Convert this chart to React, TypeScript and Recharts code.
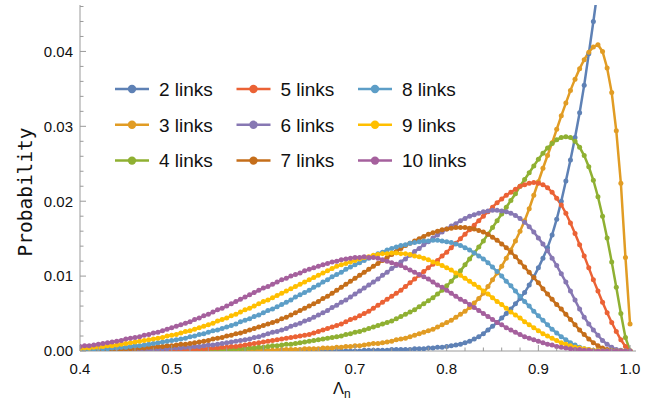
import React from "react";
import { Legend, Line, LineChart, XAxis, YAxis } from "recharts";

// Λ_n grid (step 0.005)
const LAMBDA = [
  0.4, 0.405, 0.41, 0.415, 0.42, 0.425, 0.43, 0.435, 0.44, 0.445,
  0.45, 0.455, 0.46, 0.465, 0.47, 0.475, 0.48, 0.485, 0.49, 0.495,
  0.5, 0.505, 0.51, 0.515, 0.52, 0.525, 0.53, 0.535, 0.54, 0.545,
  0.55, 0.555, 0.56, 0.565, 0.57, 0.575, 0.58, 0.585, 0.59, 0.595,
  0.6, 0.605, 0.61, 0.615, 0.62, 0.625, 0.63, 0.635, 0.64, 0.645,
  0.65, 0.655, 0.66, 0.665, 0.67, 0.675, 0.68, 0.685, 0.69, 0.695,
  0.7, 0.705, 0.71, 0.715, 0.72, 0.725, 0.73, 0.735, 0.74, 0.745,
  0.75, 0.755, 0.76, 0.765, 0.77, 0.775, 0.78, 0.785, 0.79, 0.795,
  0.8, 0.805, 0.81, 0.815, 0.82, 0.825, 0.83, 0.835, 0.84, 0.845,
  0.85, 0.855, 0.86, 0.865, 0.87, 0.875, 0.88, 0.885, 0.89, 0.895,
  0.9, 0.905, 0.91, 0.915, 0.92, 0.925, 0.93, 0.935, 0.94, 0.945,
  0.95, 0.955, 0.96, 0.965, 0.97, 0.975, 0.98, 0.985, 0.99, 0.995,
  1.0,
];

const LINKS_2 = [
  0, 0, 0, 0, 0, 0, 0, 0, 0, 0,
  0, 0, 0, 0, 0, 0, 0, 0, 0, 0,
  0, 0, 0, 0, 0, 0, 0, 0, 0, 0,
  0, 0, 0, 0, 0, 0, 0, 0, 0, 0,
  0, 0, 0, 0, 0, 0, 0, 0, 0, 0,
  0, 0, 0, 0, 0, 0, 0, 0, 0, 0,
  0, 0, 0.0001, 0.0001, 0.0001, 0.0001, 0.0001, 0.0001, 0.0002, 0.0002,
  0.0002, 0.0002, 0.0002, 0.0003, 0.0003, 0.0003, 0.0004, 0.0004, 0.0005, 0.0005,
  0.0006, 0.0007, 0.0008, 0.0009, 0.0011, 0.0013, 0.0016, 0.0019, 0.0023, 0.0028,
  0.0033, 0.0038, 0.0044, 0.005, 0.0056, 0.0063, 0.007, 0.0078, 0.0088, 0.0099,
  0.0111, 0.0124, 0.0138, 0.0155, 0.0176, 0.02, 0.0227, 0.0255, 0.0285, 0.0318,
  0.0355, 0.0397, 0.044, 0.0485, null, null, null, null, null, null,
  null,
];

const LINKS_3 = [
  0, 0, 0, 0, 0, 0, 0, 0, 0, 0,
  0, 0, 0, 0, 0, 0, 0, 0, 0, 0,
  0, 0, 0, 0, 0, 0, 0, 0, 0, 0,
  0, 0, 0, 0, 0, 0, 0, 0, 0.0001, 0.0001,
  0.0001, 0.0001, 0.0001, 0.0001, 0.0002, 0.0002, 0.0002, 0.0002, 0.0002, 0.0003,
  0.0003, 0.0003, 0.0003, 0.0004, 0.0004, 0.0004, 0.0005, 0.0005, 0.0006, 0.0006,
  0.0007, 0.0007, 0.0008, 0.0009, 0.001, 0.001, 0.0011, 0.0012, 0.0013, 0.0015,
  0.0016, 0.0017, 0.0019, 0.0021, 0.0023, 0.0025, 0.0027, 0.0029, 0.0032, 0.0035,
  0.0038, 0.0041, 0.0045, 0.0049, 0.0053, 0.0058, 0.0064, 0.007, 0.0077, 0.0086,
  0.0095, 0.0104, 0.0113, 0.0124, 0.0135, 0.0147, 0.016, 0.0174, 0.019, 0.0208,
  0.0226, 0.0244, 0.0261, 0.0278, 0.0296, 0.0314, 0.0331, 0.0348, 0.0363, 0.0377,
  0.0389, 0.0399, 0.0406, 0.0409, 0.04, 0.0378, 0.0345, 0.0294, 0.0224, 0.0125,
  0.0036,
];

const LINKS_4 = [
  0, 0, 0, 0, 0, 0, 0, 0, 0, 0,
  0, 0, 0, 0, 0, 0, 0, 0, 0, 0,
  0, 0, 0, 0, 0, 0.0001, 0.0001, 0.0001, 0.0001, 0.0001,
  0.0001, 0.0002, 0.0002, 0.0002, 0.0003, 0.0003, 0.0003, 0.0004, 0.0004, 0.0005,
  0.0005, 0.0006, 0.0007, 0.0007, 0.0008, 0.0009, 0.0009, 0.001, 0.0011, 0.0012,
  0.0013, 0.0014, 0.0015, 0.0016, 0.0017, 0.0018, 0.0019, 0.002, 0.0022, 0.0023,
  0.0025, 0.0026, 0.0028, 0.003, 0.0032, 0.0034, 0.0036, 0.0038, 0.004, 0.0043,
  0.0046, 0.0049, 0.0052, 0.0055, 0.0059, 0.0063, 0.0067, 0.0071, 0.0076, 0.0081,
  0.0087, 0.0093, 0.01, 0.0107, 0.0115, 0.0123, 0.0131, 0.0139, 0.0147, 0.0156,
  0.0165, 0.0174, 0.0183, 0.0192, 0.0201, 0.021, 0.022, 0.0229, 0.0238, 0.0247,
  0.0256, 0.0264, 0.0271, 0.0277, 0.0282, 0.0285, 0.0286, 0.0285, 0.028, 0.0272,
  0.0261, 0.0246, 0.0228, 0.0206, 0.018, 0.0151, 0.0119, 0.0085, 0.005, 0.0018,
  0,
];

const LINKS_5 = [
  0, 0, 0, 0, 0, 0, 0, 0, 0, 0,
  0, 0.0001, 0.0001, 0.0001, 0.0001, 0.0001, 0.0001, 0.0001, 0.0001, 0.0001,
  0.0001, 0.0001, 0.0002, 0.0002, 0.0002, 0.0002, 0.0003, 0.0003, 0.0003, 0.0004,
  0.0004, 0.0005, 0.0005, 0.0006, 0.0006, 0.0007, 0.0008, 0.0009, 0.001, 0.0011,
  0.0012, 0.0013, 0.0014, 0.0015, 0.0016, 0.0017, 0.0018, 0.0019, 0.002, 0.0021,
  0.0022, 0.0024, 0.0026, 0.0028, 0.003, 0.0032, 0.0034, 0.0036, 0.0039, 0.0042,
  0.0044, 0.0047, 0.005, 0.0053, 0.0057, 0.0061, 0.0065, 0.0069, 0.0073, 0.0077,
  0.0081, 0.0086, 0.0091, 0.0096, 0.0101, 0.0106, 0.0111, 0.0116, 0.0121, 0.0127,
  0.0132, 0.0138, 0.0144, 0.015, 0.0156, 0.0162, 0.0168, 0.0174, 0.018, 0.0186,
  0.0192, 0.0198, 0.0203, 0.0208, 0.0212, 0.0216, 0.022, 0.0222, 0.0224, 0.0225,
  0.0224, 0.0222, 0.0218, 0.0212, 0.0204, 0.0195, 0.0184, 0.0171, 0.0157, 0.0142,
  0.0127, 0.0111, 0.0095, 0.008, 0.0065, 0.0051, 0.0038, 0.0026, 0.0015, 0.0006,
  0,
];

const LINKS_6 = [
  0, 0, 0, 0, 0.0001, 0.0001, 0.0001, 0.0001, 0.0001, 0.0001,
  0.0001, 0.0001, 0.0001, 0.0002, 0.0002, 0.0002, 0.0002, 0.0003, 0.0003, 0.0003,
  0.0004, 0.0004, 0.0004, 0.0005, 0.0005, 0.0006, 0.0006, 0.0007, 0.0008, 0.0008,
  0.0009, 0.001, 0.0011, 0.0012, 0.0013, 0.0014, 0.0015, 0.0016, 0.0018, 0.0019,
  0.0021, 0.0023, 0.0025, 0.0026, 0.0028, 0.003, 0.0033, 0.0035, 0.0037, 0.004,
  0.0042, 0.0045, 0.0048, 0.0051, 0.0054, 0.0058, 0.0061, 0.0065, 0.0068, 0.0072,
  0.0076, 0.008, 0.0084, 0.0088, 0.0092, 0.0096, 0.0101, 0.0105, 0.011, 0.0114,
  0.0119, 0.0123, 0.0128, 0.0133, 0.0137, 0.0142, 0.0146, 0.0151, 0.0155, 0.0159,
  0.0163, 0.0167, 0.017, 0.0174, 0.0177, 0.018, 0.0182, 0.0184, 0.0186, 0.0187,
  0.0188, 0.0188, 0.0187, 0.0186, 0.0184, 0.0181, 0.0177, 0.0172, 0.0166, 0.0159,
  0.0151, 0.0143, 0.0134, 0.0124, 0.0114, 0.0103, 0.0092, 0.008, 0.0068, 0.0056,
  0.0045, 0.0036, 0.0028, 0.0021, 0.0014, 0.0009, 0.0005, 0.0002, 0.0001, 0,
  0,
];

const LINKS_7 = [
  0.0001, 0.0001, 0.0001, 0.0001, 0.0001, 0.0002, 0.0002, 0.0002, 0.0002, 0.0002,
  0.0003, 0.0003, 0.0003, 0.0004, 0.0004, 0.0005, 0.0005, 0.0006, 0.0006, 0.0007,
  0.0007, 0.0008, 0.0009, 0.0009, 0.001, 0.0011, 0.0012, 0.0013, 0.0014, 0.0016,
  0.0017, 0.0018, 0.002, 0.0021, 0.0023, 0.0024, 0.0026, 0.0028, 0.003, 0.0032,
  0.0034, 0.0036, 0.0038, 0.004, 0.0043, 0.0045, 0.0048, 0.0051, 0.0054, 0.0057,
  0.006, 0.0063, 0.0066, 0.007, 0.0073, 0.0077, 0.0081, 0.0085, 0.0089, 0.0093,
  0.0097, 0.0101, 0.0105, 0.0109, 0.0113, 0.0117, 0.0121, 0.0125, 0.0129, 0.0133,
  0.0137, 0.0141, 0.0144, 0.0147, 0.015, 0.0153, 0.0156, 0.0158, 0.016, 0.0162,
  0.0163, 0.0164, 0.0165, 0.0165, 0.0165, 0.0164, 0.0163, 0.0161, 0.0159, 0.0156,
  0.0152, 0.0148, 0.0143, 0.0138, 0.0132, 0.0126, 0.0119, 0.0112, 0.0105, 0.0098,
  0.0091, 0.0083, 0.0076, 0.0069, 0.0062, 0.0056, 0.0049, 0.0042, 0.0035, 0.0028,
  0.0022, 0.0016, 0.0011, 0.0007, 0.0004, 0.0002, 0.0001, 0, 0, 0,
  0,
];

const LINKS_8 = [
  0.0001, 0.0002, 0.0002, 0.0002, 0.0003, 0.0003, 0.0003, 0.0004, 0.0004, 0.0005,
  0.0005, 0.0006, 0.0007, 0.0007, 0.0008, 0.0009, 0.001, 0.0011, 0.0012, 0.0013,
  0.0014, 0.0015, 0.0016, 0.0017, 0.0019, 0.002, 0.0022, 0.0023, 0.0025, 0.0027,
  0.0028, 0.003, 0.0032, 0.0034, 0.0036, 0.0039, 0.0041, 0.0043, 0.0046, 0.0048,
  0.0051, 0.0054, 0.0056, 0.0059, 0.0062, 0.0065, 0.0068, 0.0072, 0.0075, 0.0078,
  0.0081, 0.0085, 0.0088, 0.0092, 0.0095, 0.0099, 0.0102, 0.0105, 0.0109, 0.0112,
  0.0115, 0.0118, 0.0121, 0.0124, 0.0127, 0.013, 0.0132, 0.0135, 0.0137, 0.0139,
  0.0141, 0.0142, 0.0144, 0.0145, 0.0146, 0.0147, 0.0147, 0.0148, 0.0148, 0.0147,
  0.0146, 0.0145, 0.0143, 0.0141, 0.0138, 0.0135, 0.0131, 0.0127, 0.0123, 0.0118,
  0.0112, 0.0106, 0.01, 0.0093, 0.0087, 0.008, 0.0073, 0.0066, 0.006, 0.0053,
  0.0047, 0.0041, 0.0035, 0.0029, 0.0024, 0.0019, 0.0015, 0.0011, 0.0008, 0.0005,
  0.0003, 0.0002, 0.0001, 0.0001, 0, 0, 0, 0, 0, 0,
  0,
];

const LINKS_9 = [
  0.0003, 0.0004, 0.0004, 0.0005, 0.0005, 0.0006, 0.0007, 0.0007, 0.0008, 0.0009,
  0.001, 0.0011, 0.0012, 0.0013, 0.0014, 0.0015, 0.0016, 0.0017, 0.0018, 0.002,
  0.0021, 0.0022, 0.0024, 0.0026, 0.0027, 0.0029, 0.0031, 0.0033, 0.0035, 0.0037,
  0.004, 0.0042, 0.0044, 0.0047, 0.0049, 0.0052, 0.0055, 0.0057, 0.006, 0.0063,
  0.0066, 0.0068, 0.0071, 0.0074, 0.0077, 0.008, 0.0083, 0.0086, 0.0089, 0.0092,
  0.0095, 0.0098, 0.0101, 0.0104, 0.0107, 0.011, 0.0113, 0.0115, 0.0117, 0.0119,
  0.0121, 0.0123, 0.0125, 0.0126, 0.0128, 0.0129, 0.013, 0.013, 0.0131, 0.0131,
  0.013, 0.013, 0.0129, 0.0127, 0.0126, 0.0124, 0.0122, 0.0119, 0.0117, 0.0114,
  0.0111, 0.0108, 0.0104, 0.0101, 0.0097, 0.0093, 0.0089, 0.0085, 0.008, 0.0076,
  0.0071, 0.0066, 0.0062, 0.0057, 0.0052, 0.0048, 0.0044, 0.0039, 0.0035, 0.0031,
  0.0027, 0.0023, 0.002, 0.0017, 0.0014, 0.0011, 0.0009, 0.0007, 0.0005, 0.0004,
  0.0003, 0.0002, 0.0001, 0.0001, 0, 0, 0, 0, 0, 0,
  0,
];

const LINKS_10 = [
  0.0006, 0.0007, 0.0007, 0.0008, 0.0009, 0.001, 0.0011, 0.0012, 0.0013, 0.0014,
  0.0016, 0.0017, 0.0018, 0.0019, 0.0021, 0.0022, 0.0024, 0.0025, 0.0027, 0.0029,
  0.0031, 0.0033, 0.0035, 0.0037, 0.0039, 0.0042, 0.0044, 0.0047, 0.0049, 0.0052,
  0.0055, 0.0057, 0.006, 0.0063, 0.0066, 0.0069, 0.0072, 0.0075, 0.0078, 0.0081,
  0.0084, 0.0086, 0.0089, 0.0092, 0.0095, 0.0097, 0.01, 0.0102, 0.0104, 0.0107,
  0.0109, 0.0111, 0.0113, 0.0115, 0.0117, 0.0119, 0.012, 0.0122, 0.0123, 0.0124,
  0.0125, 0.0125, 0.0126, 0.0125, 0.0125, 0.0124, 0.0122, 0.012, 0.0118, 0.0116,
  0.0114, 0.0111, 0.0108, 0.0105, 0.0102, 0.0099, 0.0096, 0.0092, 0.0088, 0.0085,
  0.0081, 0.0077, 0.0073, 0.0069, 0.0066, 0.0062, 0.0058, 0.0054, 0.005, 0.0046,
  0.0042, 0.0038, 0.0035, 0.0031, 0.0028, 0.0025, 0.0022, 0.0019, 0.0017, 0.0015,
  0.0013, 0.0011, 0.0009, 0.0008, 0.0006, 0.0005, 0.0004, 0.0003, 0.0002, 0.0002,
  0.0001, 0.0001, 0, 0, 0, 0, 0, 0, 0, 0,
  0,
];

const SERIES_NAMES = ["2 links", "3 links", "4 links", "5 links", "6 links", "7 links", "8 links", "9 links", "10 links"];
const SERIES_VALUES = [LINKS_2, LINKS_3, LINKS_4, LINKS_5, LINKS_6, LINKS_7, LINKS_8, LINKS_9, LINKS_10];
// Mathematica default palette
const SERIES_COLORS = ["#5e81b5", "#e19c24", "#8fb032", "#eb6235", "#8778b3", "#c56e1a", "#5d9ec7", "#ffbf00", "#a5609d"];

const X_TICKS = [
  0.4, 0.42, 0.44, 0.46, 0.48, 0.5, 0.52, 0.54, 0.56, 0.58,
  0.6, 0.62, 0.64, 0.66, 0.68, 0.7, 0.72, 0.74, 0.76, 0.78,
  0.8, 0.82, 0.84, 0.86, 0.88, 0.9, 0.92, 0.94, 0.96, 0.98, 1.0,
];
const Y_TICKS = [
  0, 0.002, 0.004, 0.006, 0.008, 0.01, 0.012, 0.014, 0.016, 0.018,
  0.02, 0.022, 0.024, 0.026, 0.028, 0.03, 0.032, 0.034, 0.036, 0.038,
  0.04, 0.042, 0.044, 0.046,
];

const data = LAMBDA.map((x, i) => {
  const row: Record<string, number | null> = { x };
  SERIES_VALUES.forEach((vals, s) => {
    row["s" + s] = vals[i];
  });
  return row;
});

const FONT = "'Liberation Sans', Arial, sans-serif";
const AXIS_GRAY = "#9a9a9a";

// ticks point inward, like Mathematica
function XTick({ x, y, payload }: any) {
  const v = payload.value;
  const major = Math.abs(v * 10 - Math.round(v * 10)) < 1e-6;
  return (
    <g>
      <line x1={x} x2={x} y1={y} y2={y - (major ? 6 : 3.5)} stroke={AXIS_GRAY} strokeWidth={1} />
      {major && (
        <text x={x} y={y + 23} textAnchor="middle" fontFamily={FONT} fontSize={15} fill="#111">
          {v.toFixed(1)}
        </text>
      )}
    </g>
  );
}

function YTick({ x, y, payload }: any) {
  const v = payload.value;
  const major = Math.abs(v * 100 - Math.round(v * 100)) < 1e-6;
  return (
    <g>
      <line x1={x} x2={x + (major ? 6 : 3.5)} y1={y} y2={y} stroke={AXIS_GRAY} strokeWidth={1} />
      {major && (
        <text x={x - 7} y={y + 5.3} textAnchor="end" fontFamily={FONT} fontSize={15} fill="#111">
          {v.toFixed(2)}
        </text>
      )}
    </g>
  );
}

function LegendGrid() {
  return (
    <svg width={665} height={407} style={{ position: "absolute", left: 0, top: 0 }}>
      {SERIES_NAMES.map((name, i) => {
        const col = Math.floor(i / 3);
        const row = i % 3;
        const x = 115 + col * 121.5;
        const y = 89 + row * 35.8;
        const c = SERIES_COLORS[i];
        return (
          <g key={name}>
            <line x1={x} x2={x + 34} y1={y} y2={y} stroke={c} strokeWidth={2.5} />
            <circle cx={x + 17} cy={y} r={4.2} fill={c} />
            <text x={x + 44} y={y + 6.8} fontFamily={FONT} fontSize={19} fill="#111">
              {name}
            </text>
          </g>
        );
      })}
    </svg>
  );
}

export default function App() {
  return (
    <div style={{ position: "absolute", left: 0, top: 0, width: 665, height: 407, background: "#fff" }}>
      <LineChart width={665} height={407} data={data} margin={{ top: 5, right: 29, bottom: 0, left: 0 }}>
        <XAxis
          type="number"
          dataKey="x"
          domain={[0.4, 1.0065]}
          ticks={X_TICKS}
          interval={0}
          allowDataOverflow
          height={56}
          tickSize={0}
          tickMargin={0}
          tickLine={false}
          axisLine={{ stroke: AXIS_GRAY }}
          tick={<XTick />}
          label={() => (
            <text x={333} y={394} fontFamily={FONT} fontSize={16.5} fill="#111">
              Λ<tspan dy={4} fontSize={12}>n</tspan>
            </text>
          )}
        />
        <YAxis
          type="number"
          domain={[0, 0.0462]}
          ticks={Y_TICKS}
          interval={0}
          allowDataOverflow
          width={80}
          tickSize={0}
          tickMargin={0}
          tickLine={false}
          axisLine={{ stroke: AXIS_GRAY }}
          tick={<YTick />}
          label={() => (
            <text
              transform="translate(32,192) rotate(-90)"
              textAnchor="middle"
              fontFamily="'DejaVu Sans Mono', monospace"
              fontSize={19.5}
              fill="#111"
            >
              Probability
            </text>
          )}
        />
        <Legend
          layout="vertical"
          align="center"
          verticalAlign="middle"
          wrapperStyle={{ left: 0, top: 0, width: 665, height: 407, pointerEvents: "none" }}
          content={() => <LegendGrid />}
        />
        {SERIES_NAMES.map((name, s) => (
          <Line
            key={name}
            name={name}
            dataKey={"s" + s}
            stroke={SERIES_COLORS[s]}
            strokeWidth={2.5}
            dot={{ r: 2.5, fill: SERIES_COLORS[s], stroke: "none" }}
            activeDot={false}
            isAnimationActive={false}
            connectNulls={false}
          />
        ))}
      </LineChart>
    </div>
  );
}
